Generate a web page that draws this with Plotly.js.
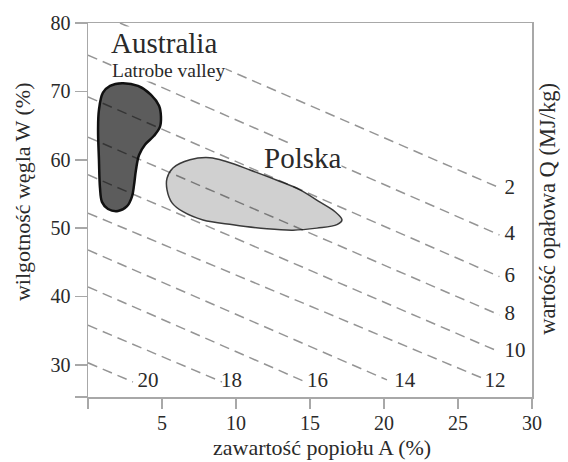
<!DOCTYPE html>
<html><head><meta charset="utf-8">
<script src="https://cdn.plot.ly/plotly-3.0.1.min.js"></script>
<style>html,body{margin:0;padding:0;background:#fff}#chart{width:568px;height:462px}</style>
</head><body><div id="chart"></div>
<script>
// iso-lines of calorific value Q (MJ/kg)
const qValues   = [2, 4, 6, 8, 10, 12, 14, 16, 18, 20];
const lineStartA = [2.16, 0, 0, 0, 0, 0, 0, 0, 0, 0];
const lineStartW = [80, 75.3, 69.2, 63.3, 57.8, 52.2, 46.8, 41.4, 35.8, 30.3];
const lineEndA   = [27.8, 27.8, 27.8, 27.8, 27.8, 26.6, 20.2, 14.7, 9.05, 3.04];
const lineEndW   = [55.9, 49.0, 42.9, 37.3, 31.9, 28.1, 27.8, 27.5, 27.5, 27.5];
const labelA     = [28.5, 28.5, 28.5, 28.5, 28.85, 27.5, 21.4, 15.5, 9.7, 4.05];
const labelW     = [55.7, 49.0, 42.9, 37.3, 31.9, 27.5, 27.5, 27.5, 27.5, 27.5];

// Australia (Latrobe valley) region outline
const australiaA = [0.74,0.68,0.74,1.01,1.49,2.30,3.38,4.26,4.80,4.93,4.86,4.46,3.85,3.45,3.24,3.11,2.97,2.64,2.03,1.35,0.95,0.81,0.74];
const australiaW = [60.0,64.4,67.3,69.8,70.8,71.2,70.8,69.5,67.9,66.3,64.8,63.5,62.2,60.7,58.5,56.3,54.6,53.2,52.5,52.8,53.8,55.9,60.0];
// Polska region outline
const polskaA = [12.77,14.32,15.68,16.69,17.16,16.82,15.47,13.85,12.09,9.80,7.77,6.42,5.68,5.34,5.34,5.74,6.89,8.24,9.39,10.95,12.77];
const polskaW = [57.0,55.6,53.8,52.4,51.2,50.5,50.0,49.7,49.9,50.5,51.2,52.4,53.7,55.6,57.3,58.8,60.0,60.3,59.7,58.5,57.0];

const xTickVals = [0, 5, 10, 15, 20, 25, 30];
const xTickText = ['', '5', '10', '15', '20', '25', '30'];
const yTickVals = [25.3, 30, 40, 50, 60, 70, 80];
const yTickText = ['', '30', '40', '50', '60', '70', '80'];

const serif = 'Liberation Serif, Times New Roman, serif';
const txt = '#2a2a2a';

const lx = [], ly = [];
for (let i = 0; i < qValues.length; i++) {
  lx.push(lineStartA[i], lineEndA[i], null);
  ly.push(lineStartW[i], lineEndW[i], null);
}

const traces = [
  {x: australiaA, y: australiaW, mode: 'lines', fill: 'toself', fillcolor: '#5c5c5c',
   line: {color: '#111', width: 2.5, shape: 'spline', smoothing: 1}, hoverinfo: 'skip'},
  {x: polskaA, y: polskaW, mode: 'lines', fill: 'toself', fillcolor: '#d0d0d0',
   line: {color: '#3a3a3a', width: 1.5, shape: 'spline', smoothing: 1}, hoverinfo: 'skip'},
  {x: lx, y: ly, mode: 'lines', line: {color: 'rgba(0,0,0,0.42)', width: 1.5, dash: '10px,6px'}, hoverinfo: 'skip'},
  {x: labelA, y: labelW, mode: 'text', text: qValues.map(String), textposition: 'middle center',
   textfont: {family: serif, size: 21, color: txt}, hoverinfo: 'skip'}
];

const axisCommon = {showgrid: false, zeroline: false, showline: true, linecolor: '#a8a8a8', linewidth: 1.5,
  ticks: 'outside', tickcolor: '#a8a8a8', tickwidth: 1.5, mirror: true,
  tickfont: {family: serif, size: 20, color: txt}, tickmode: 'array'};

const layout = {
  width: 568, height: 462,
  margin: {l: 88, r: 36, t: 23, b: 65},
  paper_bgcolor: '#fff', plot_bgcolor: '#fff',
  showlegend: false,
  xaxis: Object.assign({}, axisCommon, {range: [0, 30], tickvals: xTickVals, ticktext: xTickText, ticklen: 10, ticklabelstandoff: -3}),
  yaxis: Object.assign({}, axisCommon, {range: [25.3, 80], tickvals: yTickVals, ticktext: yTickText, ticklen: 12}),
  annotations: [
    {text: 'Australia', x: 5.14, y: 77.05, xref: 'x', yref: 'y', showarrow: false, xanchor: 'center', yanchor: 'middle',
     font: {family: serif, size: 29, color: txt}, bgcolor: '#fff', borderpad: 0},
    {text: 'Latrobe valley', x: 5.47, y: 73.1, xref: 'x', yref: 'y', showarrow: false, xanchor: 'center', yanchor: 'middle',
     font: {family: serif, size: 19.5, color: txt}, bgcolor: '#fff', borderpad: 0},
    {text: 'Polska', x: 14.46, y: 60.2, xref: 'x', yref: 'y', showarrow: false, xanchor: 'center', yanchor: 'middle',
     height: 28, font: {family: serif, size: 29, color: txt}, bgcolor: '#fff', borderpad: 0},
    {text: 'wilgotność węgla W (%)', x: -0.1486, y: 0.548, xref: 'paper', yref: 'paper', showarrow: false,
     xanchor: 'center', yanchor: 'middle', textangle: -90, font: {family: serif, size: 22, color: txt}},
    {text: 'wartość opałowa Q (MJ/kg)', x: 1.036, y: 0.503, xref: 'paper', yref: 'paper', showarrow: false,
     xanchor: 'center', yanchor: 'middle', textangle: -90, font: {family: serif, size: 22.5, color: txt}},
    {text: 'zawartość popiołu A (%)', x: 0.527, y: -0.134, xref: 'paper', yref: 'paper', showarrow: false,
     xanchor: 'center', yanchor: 'middle', font: {family: serif, size: 22, color: txt}}
  ]
};

Plotly.newPlot('chart', traces, layout, {displayModeBar: false, staticPlot: true});
</script>
</body></html>
